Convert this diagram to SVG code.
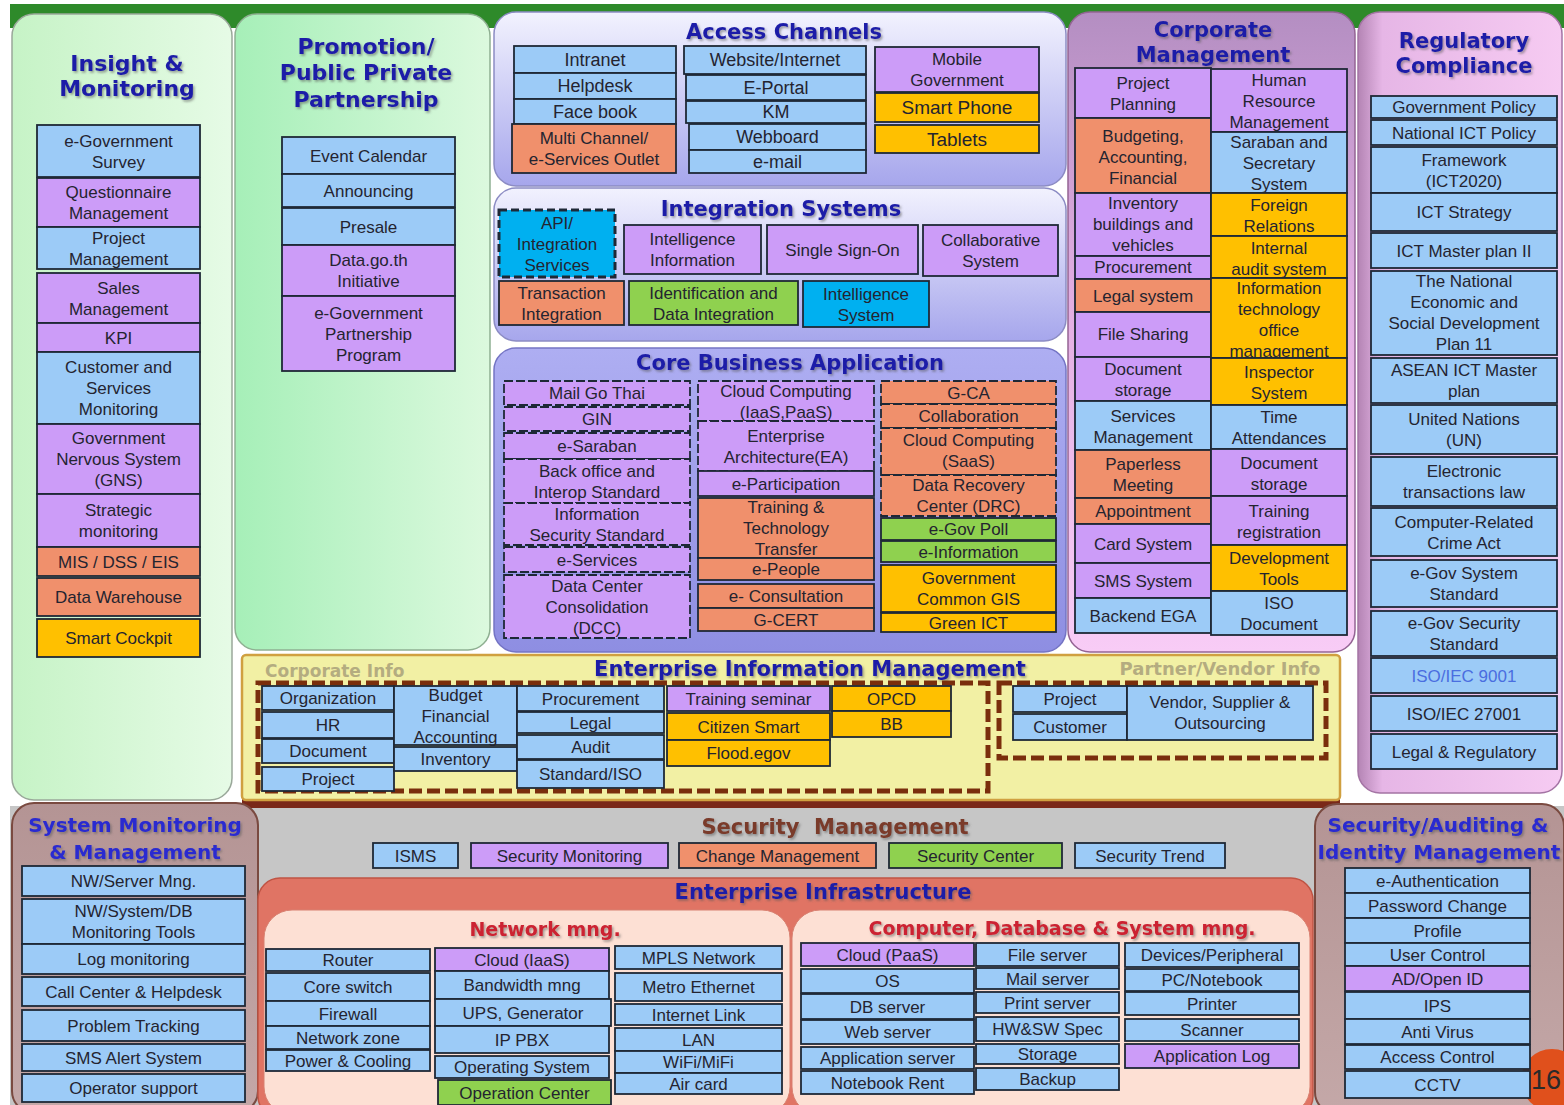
<svg xmlns="http://www.w3.org/2000/svg" width="1564" height="1105" viewBox="0 0 1564 1105">
<defs>
<linearGradient id="gIns" x1="0" y1="0" x2="1" y2="0"><stop offset="0" stop-color="#c6f3c6"/><stop offset="1" stop-color="#e6fbe6"/></linearGradient>
<linearGradient id="gPro" x1="0" y1="0" x2="1" y2="0"><stop offset="0" stop-color="#a6efb8"/><stop offset="1" stop-color="#dcf9de"/></linearGradient>
<linearGradient id="gLav" x1="0" y1="0" x2="0" y2="1"><stop offset="0" stop-color="#f2f2fe"/><stop offset="1" stop-color="#a6a6ec"/></linearGradient>
<linearGradient id="gCore" x1="0" y1="0" x2="0" y2="1"><stop offset="0" stop-color="#aeaef2"/><stop offset="1" stop-color="#8e8ee2"/></linearGradient>
<linearGradient id="gCorp" x1="0" y1="0" x2="0" y2="1"><stop offset="0" stop-color="#b48ec2"/><stop offset="0.45" stop-color="#e2aee2"/><stop offset="1" stop-color="#f8ccf6"/></linearGradient>
<linearGradient id="gReg" x1="0" y1="0" x2="1" y2="0"><stop offset="0" stop-color="#b484b4"/><stop offset="0.12" stop-color="#e6b6e6"/><stop offset="1" stop-color="#f6cbf2"/></linearGradient>
<linearGradient id="gMau" x1="0" y1="0" x2="0" y2="1"><stop offset="0" stop-color="#b49494"/><stop offset="1" stop-color="#c4a8a8"/></linearGradient>
<filter id="sh" x="-5%" y="-30%" width="110%" height="160%"><feDropShadow dx="1.5" dy="1.8" stdDeviation="1" flood-color="#555" flood-opacity="0.55"/></filter>
</defs>
<style>
.box{stroke:#1e2836;stroke-width:1.8}
.b{fill:#9ccbf7}.p{fill:#cc9cf8}.o{fill:#f0906c}.y{fill:#ffc000}.g{fill:#8fd14f}.c{fill:#00b0f0}
.d{stroke-dasharray:9 3}
.t{font-family:"Liberation Sans",Arial,sans-serif;font-size:17px;fill:#242430;text-anchor:middle}
.t18{font-size:18px}.t19{font-size:19px}
.h{font-family:"DejaVu Sans",Verdana,sans-serif;font-weight:bold;font-size:21px;fill:#1c1ca8;text-anchor:middle}
.h22{font-size:22px}.h20{font-size:20px}
.red{fill:#cc2030;font-size:19px}
.olive{fill:#b4ac80;font-size:17px}
.dash{fill:none;stroke:#7a2e0c;stroke-width:5;stroke-dasharray:13 5}
</style>
<rect x="0" y="0" width="1564" height="1105" fill="#ffffff"/>
<rect x="10" y="4" width="1554" height="24" fill="#2e8a2a"/>
<rect x="10" y="806" width="1554" height="299" fill="#c6c6c6"/>
<rect x="242" y="795" width="1098" height="13" fill="#7a2818"/>

<!-- Insight & Monitoring -->
<g id="insight-monitoring">
<rect x="12" y="14" width="220" height="786" rx="22" fill="url(#gIns)" stroke="#9aa89a" stroke-width="1.5"/>
<g filter="url(#sh)"><text class="h h22" x="127" y="71">Insight &amp;</text><text class="h h22" x="127" y="96">Monitoring</text></g>
</g>
<g id="egov-survey"><rect class="box b" x="37" y="125" width="163" height="52"/><text class="t"><tspan x="118.5" y="146.5">e-Government</tspan><tspan x="118.5" y="167.5">Survey</tspan></text></g>
<g id="questionnaire"><rect class="box p" x="37" y="178" width="163" height="49"/><text class="t"><tspan x="118.5" y="198">Questionnaire</tspan><tspan x="118.5" y="219">Management</tspan></text></g>
<g id="project-mgmt"><rect class="box b" x="37" y="227" width="163" height="42"/><text class="t"><tspan x="118.5" y="243.5">Project</tspan><tspan x="118.5" y="264.5">Management</tspan></text></g>
<g id="sales-mgmt"><rect class="box p" x="37" y="273" width="163" height="50"/><text class="t"><tspan x="118.5" y="293.5">Sales</tspan><tspan x="118.5" y="314.5">Management</tspan></text></g>
<g id="kpi"><rect class="box p" x="37" y="323" width="163" height="29"/><text class="t" x="118.5" y="343.5">KPI</text></g>
<g id="customer-monitoring"><rect class="box b" x="37" y="352" width="163" height="72"/><text class="t"><tspan x="118.5" y="373">Customer and</tspan><tspan x="118.5" y="394">Services</tspan><tspan x="118.5" y="415">Monitoring</tspan></text></g>
<g id="gns"><rect class="box p" x="37" y="424" width="163" height="70"/><text class="t"><tspan x="118.5" y="444">Government</tspan><tspan x="118.5" y="465">Nervous System</tspan><tspan x="118.5" y="486">(GNS)</tspan></text></g>
<g id="strategic"><rect class="box p" x="37" y="494" width="163" height="53"/><text class="t"><tspan x="118.5" y="516">Strategic</tspan><tspan x="118.5" y="537">monitoring</tspan></text></g>
<g id="mis"><rect class="box o" x="37" y="547" width="163" height="29"/><text class="t" x="118.5" y="567.5">MIS / DSS / EIS</text></g>
<g id="dw"><rect class="box o" x="37" y="578" width="163" height="38"/><text class="t" x="118.5" y="603">Data Warehouse</text></g>
<g id="cockpit"><rect class="box y" x="37" y="619" width="163" height="38"/><text class="t" x="118.5" y="644">Smart Cockpit</text></g>

<!-- Promotion -->
<g id="promotion">
<rect x="235" y="14" width="255" height="636" rx="22" fill="url(#gPro)" stroke="#8fb092" stroke-width="1.5"/>
<g filter="url(#sh)"><text class="h h22" x="366" y="54">Promotion/</text><text class="h h22" x="366" y="80">Public Private</text><text class="h h22" x="366" y="107">Partnership</text></g>
</g>
<g id="event-calendar"><rect class="box b" x="282" y="137" width="173" height="37"/><text class="t" x="368.5" y="161.5">Event Calendar</text></g>
<g id="announcing"><rect class="box b" x="282" y="174" width="173" height="33"/><text class="t" x="368.5" y="196.5">Announcing</text></g>
<g id="presale"><rect class="box b" x="282" y="208" width="173" height="37"/><text class="t" x="368.5" y="232.5">Presale</text></g>
<g id="datagoth"><rect class="box p" x="282" y="245" width="173" height="51"/><text class="t"><tspan x="368.5" y="266">Data.go.th</tspan><tspan x="368.5" y="287">Initiative</tspan></text></g>
<g id="egov-partnership"><rect class="box p" x="282" y="296" width="173" height="75"/><text class="t"><tspan x="368.5" y="318.5">e-Government</tspan><tspan x="368.5" y="339.5">Partnership</tspan><tspan x="368.5" y="360.5">Program</tspan></text></g>

<!-- Access Channels -->
<g id="access-channels">
<rect x="494" y="12" width="572" height="174" rx="22" fill="url(#gLav)" stroke="#8c8cc4" stroke-width="1.5"/>
<text class="h" x="784" y="39" filter="url(#sh)">Access Channels</text>
</g>
<g id="intranet"><rect class="box b" x="514" y="46" width="162" height="27"/><text class="t t18" x="595" y="66">Intranet</text></g>
<g id="helpdesk"><rect class="box b" x="514" y="73" width="162" height="26"/><text class="t t18" x="595" y="92">Helpdesk</text></g>
<g id="facebook"><rect class="box b" x="514" y="99" width="162" height="25"/><text class="t t18" x="595" y="118">Face book</text></g>
<g id="multichannel"><rect class="box o" x="512" y="124" width="164" height="49"/><text class="t"><tspan x="594" y="144">Multi Channel/</tspan><tspan x="594" y="165">e-Services Outlet</tspan></text></g>
<g id="website"><rect class="box b" x="684" y="46" width="182" height="28"/><text class="t t18" x="775" y="66">Website/Internet</text></g>
<g id="eportal"><rect class="box b" x="686" y="75" width="180" height="25"/><text class="t t18" x="776" y="94">E-Portal</text></g>
<g id="km"><rect class="box b" x="686" y="101" width="180" height="22"/><text class="t t18" x="776" y="118">KM</text></g>
<g id="webboard"><rect class="box b" x="689" y="124" width="177" height="26"/><text class="t t18" x="777.5" y="143">Webboard</text></g>
<g id="email"><rect class="box b" x="689" y="150" width="177" height="23"/><text class="t t18" x="777.5" y="167.5">e-mail</text></g>
<g id="mobile-gov"><rect class="box p" x="875" y="47" width="164" height="45"/><text class="t"><tspan x="957" y="65">Mobile</tspan><tspan x="957" y="86">Government</tspan></text></g>
<g id="smartphone"><rect class="box y" x="875" y="93" width="164" height="29"/><text class="t t19" x="957" y="114">Smart Phone</text></g>
<g id="tablets"><rect class="box y" x="875" y="125" width="164" height="28"/><text class="t t19" x="957" y="145.5">Tablets</text></g>

<!-- Integration Systems -->
<g id="integration-systems">
<rect x="494" y="188" width="572" height="153" rx="22" fill="url(#gLav)" stroke="#8c8cc4" stroke-width="1.5"/>
<text class="h" x="781" y="216" filter="url(#sh)">Integration Systems</text>
</g>
<g id="api"><rect class="c" x="499" y="210" width="116" height="67" stroke="#1e2836" stroke-width="3" stroke-dasharray="8 4"/><text class="t"><tspan x="557" y="228.5">API/</tspan><tspan x="557" y="249.5">Integration</tspan><tspan x="557" y="270.5">Services</tspan></text></g>
<g id="intel-info"><rect class="box p" x="624" y="225" width="137" height="49"/><text class="t"><tspan x="692.5" y="245">Intelligence</tspan><tspan x="692.5" y="266">Information</tspan></text></g>
<g id="sso"><rect class="box p" x="767" y="225" width="151" height="49"/><text class="t" x="842.5" y="255.5">Single Sign-On</text></g>
<g id="collab-system"><rect class="box p" x="923" y="225" width="135" height="51"/><text class="t"><tspan x="990.5" y="246">Collaborative</tspan><tspan x="990.5" y="267">System</tspan></text></g>
<g id="transaction"><rect class="box o" x="499" y="281" width="125" height="44"/><text class="t"><tspan x="561.5" y="299">Transaction</tspan><tspan x="561.5" y="320">Integration</tspan></text></g>
<g id="identification"><rect class="box g" x="629" y="281" width="169" height="44"/><text class="t"><tspan x="713.5" y="299">Identification and</tspan><tspan x="713.5" y="320">Data Integration</tspan></text></g>
<g id="intel-system"><rect class="box c" x="803" y="281" width="126" height="46"/><text class="t"><tspan x="866" y="299.5">Intelligence</tspan><tspan x="866" y="320.5">System</tspan></text></g>

<!-- Core Business Application -->
<g id="core-business">
<rect x="494" y="348" width="572" height="304" rx="22" fill="url(#gCore)" stroke="#7474c4" stroke-width="1.5"/>
<text class="h" x="790" y="370" filter="url(#sh)">Core Business Application</text>
</g>
<g id="mailgothai"><rect class="box p d" x="504" y="381" width="186" height="24"/><text class="t" x="597" y="399">Mail Go Thai</text></g>
<g id="gin"><rect class="box p d" x="504" y="407" width="186" height="24"/><text class="t" x="597" y="425">GIN</text></g>
<g id="esaraban"><rect class="box p d" x="504" y="433" width="186" height="26"/><text class="t" x="597" y="452">e-Saraban</text></g>
<g id="backoffice"><rect class="box p d" x="504" y="459" width="186" height="44"/><text class="t"><tspan x="597" y="476.5">Back office and</tspan><tspan x="597" y="497.5">Interop Standard</tspan></text></g>
<g id="infosec-std"><rect class="box p d" x="504" y="503" width="186" height="42"/><text class="t"><tspan x="597" y="519.5">Information</tspan><tspan x="597" y="540.5">Security Standard</tspan></text></g>
<g id="eservices"><rect class="box p d" x="504" y="547" width="186" height="25"/><text class="t" x="597" y="565.5">e-Services</text></g>
<g id="dcc"><rect class="box p d" x="504" y="575" width="186" height="63"/><text class="t"><tspan x="597" y="591.5">Data Center</tspan><tspan x="597" y="612.5">Consolidation</tspan><tspan x="597" y="633.5">(DCC)</tspan></text></g>
<g id="cloud-iaas-paas"><rect class="box p d" x="698" y="381" width="176" height="40"/><text class="t"><tspan x="786" y="396.5">Cloud Computing</tspan><tspan x="786" y="417.5">(IaaS,PaaS)</tspan></text></g>
<g id="ea"><rect class="box p d" x="698" y="421" width="176" height="50"/><text class="t"><tspan x="786" y="441.5">Enterprise</tspan><tspan x="786" y="462.5">Architecture(EA)</tspan></text></g>
<g id="eparticipation"><rect class="box p" x="698" y="471" width="176" height="25"/><text class="t" x="786" y="489.5">e-Participation</text></g>
<g id="training-tech"><rect class="box o" x="698" y="498" width="176" height="60"/><text class="t"><tspan x="786" y="513">Training &amp;</tspan><tspan x="786" y="534">Technology</tspan><tspan x="786" y="555">Transfer</tspan></text></g>
<g id="epeople"><rect class="box o" x="698" y="558" width="176" height="22"/><text class="t" x="786" y="575">e-People</text></g>
<g id="econsultation"><rect class="box o" x="698" y="584" width="176" height="24"/><text class="t" x="786" y="602">e- Consultation</text></g>
<g id="gcert"><rect class="box o" x="698" y="608" width="176" height="23"/><text class="t" x="786" y="625.5">G-CERT</text></g>
<g id="gca"><rect class="box o d" x="881" y="381" width="175" height="23"/><text class="t" x="968.5" y="398.5">G-CA</text></g>
<g id="collaboration"><rect class="box o d" x="881" y="404" width="175" height="24"/><text class="t" x="968.5" y="422">Collaboration</text></g>
<g id="cloud-saas"><rect class="box o d" x="881" y="428" width="175" height="47"/><text class="t"><tspan x="968.5" y="446">Cloud Computing</tspan><tspan x="968.5" y="467">(SaaS)</tspan></text></g>
<g id="drc"><rect class="box o d" x="881" y="475" width="175" height="41"/><text class="t"><tspan x="968.5" y="491">Data Recovery</tspan><tspan x="968.5" y="512">Center (DRC)</tspan></text></g>
<g id="egovpoll"><rect class="box g" x="881" y="518" width="175" height="22"/><text class="t" x="968.5" y="535">e-Gov Poll</text></g>
<g id="einformation"><rect class="box g" x="881" y="541" width="175" height="21"/><text class="t" x="968.5" y="557.5">e-Information</text></g>
<g id="gis"><rect class="box y" x="881" y="565" width="175" height="47"/><text class="t"><tspan x="968.5" y="584">Government</tspan><tspan x="968.5" y="605">Common GIS</tspan></text></g>
<g id="greenict"><rect class="box y" x="881" y="613" width="175" height="19"/><text class="t" x="968.5" y="628.5">Green ICT</text></g>

<!-- Corporate Management -->
<g id="corporate-management">
<rect x="1068" y="12" width="287" height="640" rx="22" fill="url(#gCorp)" stroke="#946494" stroke-width="1.5"/>
<g filter="url(#sh)"><text class="h" x="1213" y="37">Corporate</text><text class="h" x="1213" y="62">Management</text></g>
</g>
<g id="project-planning"><rect class="box p" x="1075" y="68" width="136" height="50"/><text class="t"><tspan x="1143" y="89">Project</tspan><tspan x="1143" y="110">Planning</tspan></text></g>
<g id="budgeting"><rect class="box o" x="1075" y="118" width="136" height="75"/><text class="t"><tspan x="1143" y="141.5">Budgeting,</tspan><tspan x="1143" y="162.5">Accounting,</tspan><tspan x="1143" y="183.5">Financial</tspan></text></g>
<g id="inventory-bld"><rect class="box p" x="1075" y="193" width="136" height="63"/><text class="t"><tspan x="1143" y="209">Inventory</tspan><tspan x="1143" y="230">buildings and</tspan><tspan x="1143" y="251">vehicles</tspan></text></g>
<g id="procurement-cm"><rect class="box p" x="1075" y="256" width="136" height="23"/><text class="t" x="1143" y="273">Procurement</text></g>
<g id="legal-system"><rect class="box o" x="1075" y="279" width="136" height="33"/><text class="t" x="1143" y="301.5">Legal system</text></g>
<g id="file-sharing"><rect class="box p" x="1075" y="312" width="136" height="45"/><text class="t" x="1143" y="340">File Sharing</text></g>
<g id="doc-storage1"><rect class="box p" x="1075" y="357" width="136" height="44"/><text class="t"><tspan x="1143" y="375">Document</tspan><tspan x="1143" y="396">storage</tspan></text></g>
<g id="services-mgmt"><rect class="box b" x="1075" y="401" width="136" height="49"/><text class="t"><tspan x="1143" y="421.5">Services</tspan><tspan x="1143" y="442.5">Management</tspan></text></g>
<g id="paperless"><rect class="box o" x="1075" y="450" width="136" height="48"/><text class="t"><tspan x="1143" y="470">Paperless</tspan><tspan x="1143" y="491">Meeting</tspan></text></g>
<g id="appointment"><rect class="box o" x="1075" y="498" width="136" height="26"/><text class="t" x="1143" y="517">Appointment</text></g>
<g id="card-system"><rect class="box p" x="1075" y="524" width="136" height="39"/><text class="t" x="1143" y="549.5">Card System</text></g>
<g id="sms-system"><rect class="box p" x="1075" y="563" width="136" height="35"/><text class="t" x="1143" y="586.5">SMS System</text></g>
<g id="backend-ega"><rect class="box b" x="1075" y="598" width="136" height="35"/><text class="t" x="1143" y="621.5">Backend EGA</text></g>
<g id="hrm"><rect class="box p" x="1211" y="69" width="136" height="63"/><text class="t"><tspan x="1279" y="86">Human</tspan><tspan x="1279" y="107">Resource</tspan><tspan x="1279" y="128">Management</tspan></text></g>
<g id="saraban-secretary"><rect class="box b" x="1211" y="132" width="136" height="61"/><text class="t"><tspan x="1279" y="148">Saraban and</tspan><tspan x="1279" y="169">Secretary</tspan><tspan x="1279" y="190">System</tspan></text></g>
<g id="foreign"><rect class="box y" x="1211" y="193" width="136" height="43"/><text class="t"><tspan x="1279" y="211">Foreign</tspan><tspan x="1279" y="232">Relations</tspan></text></g>
<g id="internal-audit"><rect class="box y" x="1211" y="236" width="136" height="42"/><text class="t"><tspan x="1279" y="253.5">Internal</tspan><tspan x="1279" y="274.5">audit system</tspan></text></g>
<g id="it-office"><rect class="box y" x="1211" y="278" width="136" height="80"/><text class="t"><tspan x="1279" y="294">Information</tspan><tspan x="1279" y="315">technology</tspan><tspan x="1279" y="336">office</tspan><tspan x="1279" y="357">management</tspan></text></g>
<g id="inspector"><rect class="box y" x="1211" y="358" width="136" height="47"/><text class="t"><tspan x="1279" y="378">Inspector</tspan><tspan x="1279" y="399">System</tspan></text></g>
<g id="time-attend"><rect class="box b" x="1211" y="405" width="136" height="44"/><text class="t"><tspan x="1279" y="422.5">Time</tspan><tspan x="1279" y="443.5">Attendances</tspan></text></g>
<g id="doc-storage2"><rect class="box p" x="1211" y="449" width="136" height="47"/><text class="t"><tspan x="1279" y="468.5">Document</tspan><tspan x="1279" y="489.5">storage</tspan></text></g>
<g id="training-reg"><rect class="box p" x="1211" y="496" width="136" height="49"/><text class="t"><tspan x="1279" y="517">Training</tspan><tspan x="1279" y="538">registration</tspan></text></g>
<g id="dev-tools"><rect class="box y" x="1211" y="545" width="136" height="46"/><text class="t"><tspan x="1279" y="564">Development</tspan><tspan x="1279" y="585">Tools</tspan></text></g>
<g id="iso-doc"><rect class="box b" x="1211" y="591" width="136" height="44"/><text class="t"><tspan x="1279" y="608.5">ISO</tspan><tspan x="1279" y="629.5">Document</tspan></text></g>

<!-- Regulatory Compliance -->
<g id="regulatory">
<rect x="1358" y="12" width="204" height="781" rx="22" fill="url(#gReg)" stroke="#a474a4" stroke-width="1.5"/>
<g filter="url(#sh)"><text class="h" x="1464" y="48">Regulatory</text><text class="h" x="1464" y="73">Compliance</text></g>
</g>
<g id="gov-policy"><rect class="box b" x="1371" y="96" width="186" height="22"/><text class="t" x="1464" y="113">Government Policy</text></g>
<g id="nat-ict-policy"><rect class="box b" x="1371" y="120" width="186" height="25"/><text class="t" x="1464" y="138.5">National ICT Policy</text></g>
<g id="framework"><rect class="box b" x="1371" y="147" width="186" height="46"/><text class="t"><tspan x="1464" y="165.5">Framework</tspan><tspan x="1464" y="186.5">(ICT2020)</tspan></text></g>
<g id="ict-strategy"><rect class="box b" x="1371" y="193" width="186" height="38"/><text class="t" x="1464" y="218">ICT Strategy</text></g>
<g id="ict-master"><rect class="box b" x="1371" y="233" width="186" height="35"/><text class="t" x="1464" y="256.5">ICT Master plan II</text></g>
<g id="nesdp"><rect class="box b" x="1371" y="271" width="186" height="84"/><text class="t"><tspan x="1464" y="287">The National</tspan><tspan x="1464" y="308">Economic and</tspan><tspan x="1464" y="329">Social Development</tspan><tspan x="1464" y="350">Plan 11</tspan></text></g>
<g id="asean"><rect class="box b" x="1371" y="358" width="186" height="45"/><text class="t"><tspan x="1464" y="376">ASEAN ICT Master</tspan><tspan x="1464" y="397">plan</tspan></text></g>
<g id="un"><rect class="box b" x="1371" y="405" width="186" height="49"/><text class="t"><tspan x="1464" y="425">United Nations</tspan><tspan x="1464" y="446">(UN)</tspan></text></g>
<g id="etrans-law"><rect class="box b" x="1371" y="457" width="186" height="49"/><text class="t"><tspan x="1464" y="477">Electronic</tspan><tspan x="1464" y="498">transactions law</tspan></text></g>
<g id="crime-act"><rect class="box b" x="1371" y="508" width="186" height="48"/><text class="t"><tspan x="1464" y="527.5">Computer-Related</tspan><tspan x="1464" y="548.5">Crime Act</tspan></text></g>
<g id="egov-sys-std"><rect class="box b" x="1371" y="560" width="186" height="47"/><text class="t"><tspan x="1464" y="579">e-Gov System</tspan><tspan x="1464" y="600">Standard</tspan></text></g>
<g id="egov-sec-std"><rect class="box b" x="1371" y="611" width="186" height="45"/><text class="t"><tspan x="1464" y="629">e-Gov Security</tspan><tspan x="1464" y="650">Standard</tspan></text></g>
<g id="iso9001"><rect class="box b" x="1371" y="658" width="186" height="35"/><text class="t" x="1464" y="681.5" style="fill:#4a6ee0">ISO/IEC 9001</text></g>
<g id="iso27001"><rect class="box b" x="1371" y="696" width="186" height="35"/><text class="t" x="1464" y="719.5">ISO/IEC 27001</text></g>
<g id="legal-reg"><rect class="box b" x="1371" y="734" width="186" height="35"/><text class="t" x="1464" y="757.5">Legal &amp; Regulatory</text></g>

<!-- Enterprise Information Management -->
<g id="eim">
<rect x="242" y="655" width="1098" height="145" rx="4" fill="#f2f0a4" stroke="#d0a040" stroke-width="2.5"/>
<text class="h" x="810" y="676" filter="url(#sh)">Enterprise Information Management</text>
<text class="h olive" x="265" y="677" style="text-anchor:start">Corporate Info</text>
<text class="h olive" x="1220" y="675" style="font-size:18px">Partner/Vendor Info</text>
<rect class="dash" x="258" y="683" width="730" height="108"/>
<rect class="dash" x="999" y="683" width="327" height="75"/>
</g>
<g id="organization"><rect class="box b" x="262" y="686" width="132" height="24"/><text class="t" x="328" y="704">Organization</text></g>
<g id="hr"><rect class="box b" x="262" y="712" width="132" height="26"/><text class="t" x="328" y="731">HR</text></g>
<g id="document-ci"><rect class="box b" x="262" y="739" width="132" height="24"/><text class="t" x="328" y="757">Document</text></g>
<g id="project-ci"><rect class="box b" x="262" y="767" width="132" height="24"/><text class="t" x="328" y="785">Project</text></g>
<g id="budget-fin"><rect class="box b" x="394" y="686" width="123" height="59"/><text class="t"><tspan x="455.5" y="700.5">Budget</tspan><tspan x="455.5" y="721.5">Financial</tspan><tspan x="455.5" y="742.5">Accounting</tspan></text></g>
<g id="inventory-ci"><rect class="box b" x="394" y="747" width="123" height="24"/><text class="t" x="455.5" y="765">Inventory</text></g>
<g id="procurement-ci"><rect class="box b" x="517" y="686" width="147" height="25"/><text class="t" x="590.5" y="704.5">Procurement</text></g>
<g id="legal-ci"><rect class="box b" x="517" y="712" width="147" height="21"/><text class="t" x="590.5" y="728.5">Legal</text></g>
<g id="audit-ci"><rect class="box b" x="517" y="735" width="147" height="24"/><text class="t" x="590.5" y="753">Audit</text></g>
<g id="standard-iso"><rect class="box b" x="517" y="760" width="147" height="28"/><text class="t" x="590.5" y="780">Standard/ISO</text></g>
<g id="training-seminar"><rect class="box p" x="667" y="686" width="163" height="25"/><text class="t" x="748.5" y="704.5">Training seminar</text></g>
<g id="citizen-smart"><rect class="box y" x="667" y="713" width="163" height="27"/><text class="t" x="748.5" y="732.5">Citizen Smart</text></g>
<g id="flood"><rect class="box y" x="667" y="740" width="163" height="26"/><text class="t" x="748.5" y="759">Flood.egov</text></g>
<g id="opcd"><rect class="box y" x="832" y="686" width="119" height="25"/><text class="t" x="891.5" y="704.5">OPCD</text></g>
<g id="bb"><rect class="box y" x="832" y="711" width="119" height="26"/><text class="t" x="891.5" y="730">BB</text></g>
<g id="project-pv"><rect class="box b" x="1013" y="686" width="114" height="26"/><text class="t" x="1070" y="705">Project</text></g>
<g id="customer-pv"><rect class="box b" x="1013" y="714" width="114" height="26"/><text class="t" x="1070" y="733">Customer</text></g>
<g id="vendor"><rect class="box b" x="1127" y="686" width="186" height="54"/><text class="t"><tspan x="1220" y="707.5">Vendor, Supplier &amp;</tspan><tspan x="1220" y="728.5">Outsourcing</tspan></text></g>

<!-- System Monitoring & Management -->
<g id="system-monitoring">
<rect x="12" y="803" width="246" height="310" rx="22" fill="url(#gMau)" stroke="#7a4a40" stroke-width="2"/>
<g filter="url(#sh)"><text class="h h20" x="135" y="832" style="fill:#2a2ad0">System Monitoring</text><text class="h h20" x="135" y="859" style="fill:#2a2ad0">&amp; Management</text></g>
</g>
<g id="nw-server"><rect class="box b" x="22" y="866" width="223" height="30"/><text class="t" x="133.5" y="887">NW/Server Mng.</text></g>
<g id="nw-tools"><rect class="box b" x="22" y="899" width="223" height="45"/><text class="t"><tspan x="133.5" y="917">NW/System/DB</tspan><tspan x="133.5" y="938">Monitoring Tools</tspan></text></g>
<g id="log-monitoring"><rect class="box b" x="22" y="944" width="223" height="30"/><text class="t" x="133.5" y="965">Log monitoring</text></g>
<g id="call-center"><rect class="box b" x="22" y="977" width="223" height="29"/><text class="t" x="133.5" y="997.5">Call Center &amp; Helpdesk</text></g>
<g id="problem-tracking"><rect class="box b" x="22" y="1010" width="223" height="31"/><text class="t" x="133.5" y="1031.5">Problem Tracking</text></g>
<g id="sms-alert"><rect class="box b" x="22" y="1044" width="223" height="27"/><text class="t" x="133.5" y="1063.5">SMS Alert System</text></g>
<g id="operator"><rect class="box b" x="22" y="1074" width="223" height="28"/><text class="t" x="133.5" y="1094">Operator support</text></g>

<!-- Security Management -->
<g id="security-management">
<text class="h" x="835" y="834" xml:space="preserve" style="fill:#7a3a2a" filter="url(#sh)">Security  Management</text>
</g>
<g id="isms"><rect class="box b" x="373" y="843" width="85" height="25"/><text class="t" x="415.5" y="861.5">ISMS</text></g>
<g id="sec-monitoring"><rect class="box p" x="471" y="843" width="197" height="25"/><text class="t" x="569.5" y="861.5">Security Monitoring</text></g>
<g id="change-mgmt"><rect class="box o" x="679" y="843" width="197" height="25"/><text class="t" x="777.5" y="861.5">Change Management</text></g>
<g id="sec-center"><rect class="box g" x="889" y="843" width="173" height="25"/><text class="t" x="975.5" y="861.5">Security Center</text></g>
<g id="sec-trend"><rect class="box b" x="1075" y="843" width="150" height="25"/><text class="t" x="1150" y="861.5">Security Trend</text></g>

<!-- Enterprise Infrastructure -->
<g id="enterprise-infrastructure">
<rect x="258" y="878" width="1055" height="240" rx="22" fill="#e07464" stroke="#c05444" stroke-width="1.5"/>
<text class="h" x="823" y="899" filter="url(#sh)">Enterprise Infrastructure</text>
</g>
<g id="network-mng">
<rect x="264" y="910" width="526" height="205" rx="28" fill="#fde0d4" stroke="#d88070" stroke-width="1"/>
<text class="h red" x="545" y="936" filter="url(#sh)">Network mng.</text>
</g>
<g id="computer-mng">
<rect x="792" y="910" width="518" height="205" rx="28" fill="#fde0d4" stroke="#d88070" stroke-width="1"/>
<text class="h red" x="1062" y="935" filter="url(#sh)">Computer, Database &amp; System mng.</text>
</g>
<g id="router"><rect class="box b" x="266" y="949" width="164" height="22"/><text class="t" x="348" y="966">Router</text></g>
<g id="core-switch"><rect class="box b" x="266" y="973" width="164" height="28"/><text class="t" x="348" y="993">Core switch</text></g>
<g id="firewall"><rect class="box b" x="266" y="1001" width="164" height="25"/><text class="t" x="348" y="1019.5">Firewall</text></g>
<g id="network-zone"><rect class="box b" x="266" y="1026" width="164" height="23"/><text class="t" x="348" y="1043.5">Network zone</text></g>
<g id="power-cooling"><rect class="box b" x="266" y="1050" width="164" height="21"/><text class="t" x="348" y="1066.5">Power &amp; Cooling</text></g>
<g id="cloud-iaas"><rect class="box p" x="435" y="948" width="174" height="23"/><text class="t" x="522" y="965.5">Cloud (IaaS)</text></g>
<g id="bandwidth"><rect class="box b" x="435" y="971" width="174" height="28"/><text class="t" x="522" y="991">Bandwidth mng</text></g>
<g id="ups"><rect class="box b" x="435" y="999" width="176" height="27"/><text class="t" x="523" y="1018.5">UPS, Generator</text></g>
<g id="ippbx"><rect class="box b" x="435" y="1026" width="174" height="27"/><text class="t" x="522" y="1045.5">IP PBX</text></g>
<g id="opsys"><rect class="box b" x="435" y="1056" width="174" height="22"/><text class="t" x="522" y="1073">Operating System</text></g>
<g id="op-center"><rect class="box g" x="438" y="1080" width="173" height="25"/><text class="t" x="524.5" y="1098.5">Operation Center</text></g>
<g id="mpls"><rect class="box b" x="615" y="946" width="167" height="23"/><text class="t" x="698.5" y="963.5">MPLS Network</text></g>
<g id="metro"><rect class="box b" x="615" y="973" width="167" height="28"/><text class="t" x="698.5" y="993">Metro Ethernet</text></g>
<g id="internet-link"><rect class="box b" x="615" y="1004" width="167" height="21"/><text class="t" x="698.5" y="1020.5">Internet Link</text></g>
<g id="lan"><rect class="box b" x="615" y="1028" width="167" height="23"/><text class="t" x="698.5" y="1045.5">LAN</text></g>
<g id="wifi"><rect class="box b" x="615" y="1051" width="167" height="22"/><text class="t" x="698.5" y="1068">WiFi/MiFi</text></g>
<g id="aircard"><rect class="box b" x="615" y="1073" width="167" height="21"/><text class="t" x="698.5" y="1089.5">Air card</text></g>
<g id="cloud-paas"><rect class="box p" x="801" y="943" width="173" height="23"/><text class="t" x="887.5" y="960.5">Cloud (PaaS)</text></g>
<g id="os"><rect class="box b" x="801" y="969" width="173" height="24"/><text class="t" x="887.5" y="987">OS</text></g>
<g id="db-server"><rect class="box b" x="801" y="994" width="173" height="25"/><text class="t" x="887.5" y="1012.5">DB server</text></g>
<g id="web-server"><rect class="box b" x="801" y="1020" width="173" height="24"/><text class="t" x="887.5" y="1038">Web server</text></g>
<g id="app-server"><rect class="box b" x="801" y="1047" width="173" height="22"/><text class="t" x="887.5" y="1064">Application server</text></g>
<g id="notebook-rent"><rect class="box b" x="801" y="1071" width="173" height="23"/><text class="t" x="887.5" y="1088.5">Notebook Rent</text></g>
<g id="file-server"><rect class="box b" x="976" y="943" width="143" height="23"/><text class="t" x="1047.5" y="960.5">File server</text></g>
<g id="mail-server"><rect class="box b" x="976" y="968" width="143" height="21"/><text class="t" x="1047.5" y="984.5">Mail server</text></g>
<g id="print-server"><rect class="box b" x="976" y="992" width="143" height="21"/><text class="t" x="1047.5" y="1008.5">Print server</text></g>
<g id="hwsw"><rect class="box b" x="976" y="1017" width="143" height="24"/><text class="t" x="1047.5" y="1035">HW&amp;SW Spec</text></g>
<g id="storage"><rect class="box b" x="976" y="1044" width="143" height="20"/><text class="t" x="1047.5" y="1060">Storage</text></g>
<g id="backup"><rect class="box b" x="976" y="1068" width="143" height="22"/><text class="t" x="1047.5" y="1085">Backup</text></g>
<g id="devices"><rect class="box b" x="1125" y="943" width="174" height="24"/><text class="t" x="1212" y="961">Devices/Peripheral</text></g>
<g id="pc-notebook"><rect class="box b" x="1125" y="969" width="174" height="22"/><text class="t" x="1212" y="986">PC/Notebook</text></g>
<g id="printer"><rect class="box b" x="1125" y="992" width="174" height="23"/><text class="t" x="1212" y="1009.5">Printer</text></g>
<g id="scanner"><rect class="box b" x="1125" y="1019" width="174" height="22"/><text class="t" x="1212" y="1036">Scanner</text></g>
<g id="app-log"><rect class="box p" x="1125" y="1044" width="174" height="24"/><text class="t" x="1212" y="1062">Application Log</text></g>

<!-- Security/Auditing & Identity Management -->
<g id="security-identity">
<rect x="1315" y="804" width="249" height="310" rx="22" fill="url(#gMau)" stroke="#7a4a40" stroke-width="2"/>
<g filter="url(#sh)"><text class="h h20" x="1438" y="832" style="fill:#2a2ad0">Security/Auditing &amp;</text><text class="h h20" x="1439" y="859" style="fill:#2a2ad0">Identity Management</text></g>
</g>
<g id="page-number"><circle cx="1552" cy="1080" r="31" fill="#e0501c"/><text x="1531" y="1089" style="font-family:'Liberation Sans',Arial,sans-serif;font-size:27px;fill:#2a2a2a">16</text></g>
<g id="eauth"><rect class="box b" x="1345" y="868" width="185" height="25"/><text class="t" x="1437.5" y="886.5">e-Authentication</text></g>
<g id="password"><rect class="box b" x="1345" y="893" width="185" height="25"/><text class="t" x="1437.5" y="911.5">Password Change</text></g>
<g id="profile"><rect class="box b" x="1345" y="918" width="185" height="25"/><text class="t" x="1437.5" y="936.5">Profile</text></g>
<g id="user-control"><rect class="box b" x="1345" y="943" width="185" height="23"/><text class="t" x="1437.5" y="960.5">User Control</text></g>
<g id="ad-openid"><rect class="box p" x="1345" y="966" width="185" height="25"/><text class="t" x="1437.5" y="984.5">AD/Open ID</text></g>
<g id="ips"><rect class="box b" x="1345" y="992" width="185" height="27"/><text class="t" x="1437.5" y="1011.5">IPS</text></g>
<g id="antivirus"><rect class="box b" x="1345" y="1019" width="185" height="25"/><text class="t" x="1437.5" y="1037.5">Anti Virus</text></g>
<g id="access-control"><rect class="box b" x="1345" y="1045" width="185" height="24"/><text class="t" x="1437.5" y="1063">Access Control</text></g>
<g id="cctv"><rect class="box b" x="1345" y="1071" width="185" height="27"/><text class="t" x="1437.5" y="1090.5">CCTV</text></g>

<g id="connectors"></g>
</svg>
